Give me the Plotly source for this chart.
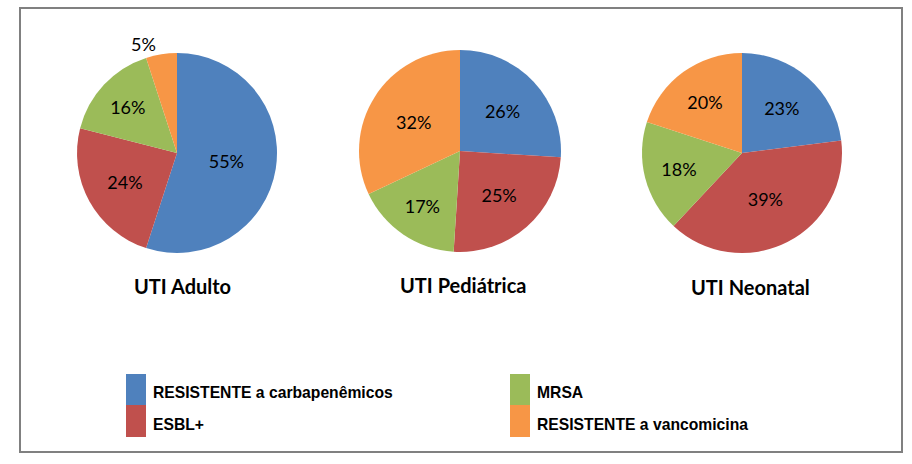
import plotly.graph_objects as go

W, H = 912, 464

categories = ["RESISTENTE a carbapenêmicos", "ESBL+", "MRSA", "RESISTENTE a vancomicina"]
colors = ["#4F81BD", "#C0504D", "#9BBB59", "#F79646"]

units = ["UTI Adulto", "UTI Pediátrica", "UTI Neonatal"]
adulto = [55, 24, 16, 5]
pediatrica = [26, 25, 17, 32]
neonatal = [23, 39, 18, 20]
series = [adulto, pediatrica, neonatal]

# layout: pie centres/radii in px (x, y from top, r)
pie_geo = [(177, 153, 100), (460, 151, 101), (742, 153, 100)]
title_pos = [(182, 286), (463, 285), (750, 287)]

fig = go.Figure()
for vals, (cx, cy, r) in zip(series, pie_geo):
    textpos = ["outside" if v < 8 else "inside" for v in vals]
    fig.add_trace(go.Pie(
        labels=categories,
        values=vals,
        sort=False,
        direction="clockwise",
        rotation=0,
        marker=dict(colors=colors, line=dict(width=0)),
        textinfo="percent",
        texttemplate="%{percent:.0%}",
        textposition=textpos,
        insidetextorientation="horizontal",
        textfont=dict(family="Lato", size=18, color="#000000"),
        showlegend=False,
        hoverinfo="label+percent",
        domain=dict(x=[(cx - r) / W, (cx + r) / W],
                    y=[1 - (cy + r) / H, 1 - (cy - r) / H]),
    ))

annotations = []
for name, (tx, ty) in zip(units, title_pos):
    annotations.append(dict(
        text="<b>%s</b>" % name, x=tx / W, y=1 - ty / H, xref="paper", yref="paper",
        xanchor="center", yanchor="middle", showarrow=False,
        font=dict(family="Lato", size=20, color="#000000")))

shapes = [dict(type="rect", xref="paper", yref="paper",
               x0=20 / W, x1=902 / W, y0=1 - 452 / H, y1=1 - 8 / H,
               line=dict(color="#808080", width=2), fillcolor="rgba(0,0,0,0)")]

# legend: two columns, two rows
leg_cols_x = [126, 510]
leg_rows_y = [374, 405, 437]
for i, (cat, col) in enumerate(zip(categories, colors)):
    c = i // 2
    rr = i % 2
    x0 = leg_cols_x[c]
    shapes.append(dict(type="rect", xref="paper", yref="paper",
                       x0=x0 / W, x1=(x0 + 20) / W,
                       y0=1 - leg_rows_y[rr + 1] / H, y1=1 - leg_rows_y[rr] / H,
                       line=dict(width=0), fillcolor=col))
    ty = (leg_rows_y[rr] + leg_rows_y[rr + 1]) / 2 + 3
    annotations.append(dict(
        text="<b>%s</b>" % cat, x=(x0 + 25) / W, y=1 - ty / H, xref="paper", yref="paper",
        xanchor="left", yanchor="middle", showarrow=False,
        font=dict(family="Liberation Sans", size=15.7, color="#000000")))

fig.update_layout(
    width=W, height=H,
    margin=dict(l=0, r=0, t=0, b=0),
    paper_bgcolor="#FFFFFF",
    plot_bgcolor="#FFFFFF",
    annotations=annotations,
    shapes=shapes,
)

fig.write_html("out.html")
